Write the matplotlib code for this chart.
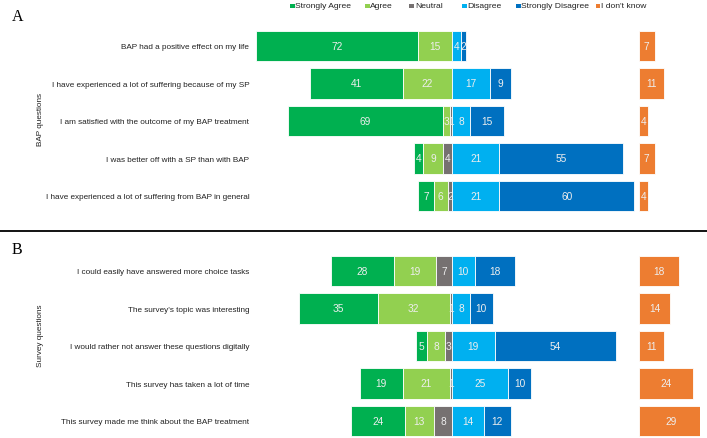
import matplotlib
matplotlib.use("Agg")
import matplotlib.pyplot as plt
import numpy as np
from matplotlib.patches import Rectangle

plt.rcParams['font.family'] = ['Liberation Sans', 'DejaVu Sans']

categories = ["Strongly Agree", "Agree", "Neutral", "Disagree", "Strongly Disagree", "I don't know"]
colors = ["#00B050", "#92D050", "#767171", "#00B0F0", "#0070C0", "#ED7D31"]

questions_a = [
    "BAP had a positive effect on my life",
    "I have experienced a lot of suffering because of my SP",
    "I am satisfied with the outcome of my BAP treatment",
    "I was better off with a SP than with BAP",
    "I have experienced a lot of suffering from BAP in general",
]
strongly_agree_a = [72, 41, 69, 4, 7]
agree_a = [15, 22, 3, 9, 6]
neutral_a = [0, 0, 1, 4, 2]
disagree_a = [4, 17, 8, 21, 21]
strongly_disagree_a = [2, 9, 15, 55, 60]
dont_know_a = [7, 11, 4, 7, 4]

questions_b = [
    "I could easily have answered more choice tasks",
    "The survey's topic was interesting",
    "I would rather not answer these questions digitally",
    "This survey has taken a lot of time",
    "This survey made me think about the BAP treatment",
]
strongly_agree_b = [28, 35, 5, 19, 24]
agree_b = [19, 32, 8, 21, 13]
neutral_b = [7, 1, 3, 1, 8]
disagree_b = [10, 8, 19, 25, 14]
strongly_disagree_b = [18, 10, 54, 10, 12]
dont_know_b = [18, 14, 11, 24, 29]

IDK_OFFSET = 83

W, H = 707, 439
fig = plt.figure(figsize=(W / 100, H / 100), dpi=100)

x0_px, x1_px = 252, 700
zero_px = 452
scale = 2.25
xlim = ((x0_px - zero_px) / scale, (x1_px - zero_px) / scale)

LABEL_FS = 5.9
VALUE_FS = 7.3


def panel(top_px, bottom_px, ylim_bottom, questions, sa, ag, ne, di, sd, dk):
    ax = fig.add_axes([x0_px / W, 1 - bottom_px / H, (x1_px - x0_px) / W, (bottom_px - top_px) / H])
    y = np.arange(len(questions))
    sa, ag, ne, di, sd, dk = map(np.array, (sa, ag, ne, di, sd, dk))
    lefts = -(sa + ag + ne)
    series = [sa, ag, ne, di, sd]
    cur = lefts.astype(float)
    for vals, col in zip(series, colors[:5]):
        ax.barh(y, vals, left=cur, height=0.82, color=col, edgecolor="white", linewidth=0.6)
        for yi, v, l in zip(y, vals, cur):
            if v > 0:
                ax.text(l + v / 2, yi, str(v), ha="center", va="center", fontsize=VALUE_FS,
                        color="#eeeeee")
        cur = cur + vals
    ax.barh(y, dk, left=IDK_OFFSET, height=0.82, color=colors[5], edgecolor="white", linewidth=0.6)
    for yi, v in zip(y, dk):
        ax.text(IDK_OFFSET + v / 2, yi, str(v), ha="center", va="center", fontsize=VALUE_FS,
                color="#eeeeee")
    ax.set_xlim(*xlim)
    ax.set_ylim(ylim_bottom, -0.5)
    ax.set_yticks(y)
    ax.set_yticklabels(questions, fontsize=LABEL_FS, color="#222222")
    ax.tick_params(axis="y", length=0, pad=2)
    ax.set_xticks([])
    for s in ax.spines.values():
        s.set_visible(False)
    return ax


panel(28.25, 215.75, 4.5, questions_a, strongly_agree_a, agree_a, neutral_a,
      disagree_a, strongly_disagree_a, dont_know_a)
panel(253.25, 439, 4.5 - 1.75 / 37.5, questions_b, strongly_agree_b, agree_b, neutral_b,
      disagree_b, strongly_disagree_b, dont_know_b)

# separator line
fig.add_artist(plt.Line2D([0, 1], [1 - 232 / H, 1 - 232 / H], color="black", linewidth=1.3,
                          transform=fig.transFigure))

# panel letters
fig.text(12 / W, 1 - 17 / H, "A", fontsize=11.5, family="Liberation Serif", va="center", ha="left")
fig.text(12 / W, 1 - 250 / H, "B", fontsize=11.5, family="Liberation Serif", va="center", ha="left")

# axis titles
fig.text(40 / W, 1 - 119 / H, "BAP questions", rotation=90, fontsize=LABEL_FS, va="center",
         ha="center", color="#222222")
fig.text(40 / W, 1 - 336 / H, "Survey questions", rotation=90, fontsize=LABEL_FS, va="center",
         ha="center", color="#222222")

# legend (manual, Excel-like spacing)
legend_x = [290, 365, 409.5, 462, 516, 595.5]
msz = 4.5
for lx, lab, col in zip(legend_x, categories, colors):
    fig.add_artist(Rectangle((lx / W, 1 - (7 + msz / 2) / H), msz / W, msz / H, facecolor=col,
                             edgecolor="none", transform=fig.transFigure))
    fig.text((lx + msz + 0.8) / W, 1 - 7 / H, lab, fontsize=6.1, va="center", ha="left",
             color="#222222")

fig.savefig("out.png", dpi=100, facecolor="white")
